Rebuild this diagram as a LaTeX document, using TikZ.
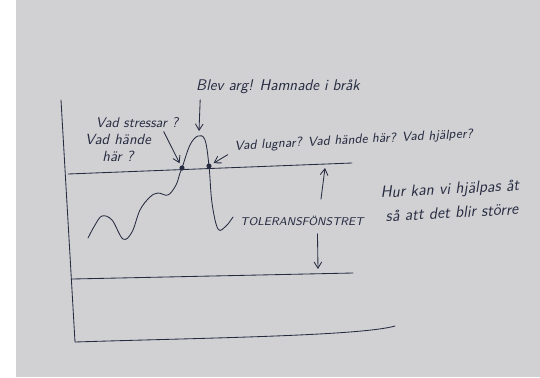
\documentclass[tikz,border=0pt]{standalone}
\usepackage{fontspec}
\usepackage{tikz}
\definecolor{ink}{rgb}{0.15, 0.17, 0.25}
\definecolor{paper}{rgb}{0.82, 0.82, 0.83}
\usetikzlibrary{arrows.meta}

\begin{document}
\begin{tikzpicture}[x=0.025cm, y=-0.025cm,
    pen/.style={ink, line width=0.6pt, line cap=round},
    penarrow/.style={pen, -{Straight Barb[length=4.5pt,width=5.5pt]}},
    hand/.style={ink, inner sep=1pt, font=\sffamily\itshape\fontsize{9.5}{15}\selectfont},
    dotnode/.style={draw=ink, fill=ink, shape=circle, inner sep=0pt, minimum size=3.2pt}]
  \useasboundingbox (0,0) rectangle (540,377);
  \fill[paper] (0,0) rectangle (540,377);
  \fill[white] (0,0) rectangle (16,377);
  \clip (0,0) rectangle (540,377);

  \draw[pen] (61,100) -- (75,342) .. controls (200,338) and (360,336) .. (395,326);
  \draw[pen] (68,174) -- (352,163);
  \draw[pen] (72,279) -- (353,273);

  \draw[pen] plot[smooth, tension=0.6] coordinates {(88,238) (95,225) (102,216) (112,220) (123,239)
      (132,232) (140,210) (150,197) (158,193) (168,195) (176,185) (180,173) (182,168)
      (190,145) (198,136) (205,140) (209,166) (212,203) (218,229) (226,226) (233,217)};

  \node[dotnode] (d1) at (182,168) {};
  \node[dotnode] (d2) at (209,166) {};
  \coordinate (peak) at (199,131);
  \coordinate (tolup) at (325,168);
  \coordinate (toldown) at (318,269);

  \node[hand, font=\sffamily\itshape\fontsize{11}{14}\selectfont] (blev) at (278,87) {Blev arg! Hamnade i bråk};
  \node[hand, font=\sffamily\itshape\fontsize{10}{12}\selectfont] (stress) at (137,123) {Vad stressar ?};
  \node[hand, align=center, font=\sffamily\itshape\fontsize{10.5}{11.5}\selectfont] (hande) at (118,148) {Vad hände\\här ?};
  \node[hand, rotate=3, anchor=west, font=\sffamily\itshape\fontsize{9.3}{12}\selectfont] (lugnar) at (233,147) {Vad lugnar? Vad hände här? Vad hjälper?};
  \node[hand, font=\sffamily\slshape\fontsize{8}{10}\selectfont] (tol) at (302,221) {TOLERANSFÖNSTRET};
  \node[hand, rotate=3, anchor=west, font=\sffamily\itshape\fontsize{11.5}{13}\selectfont] (hur) at (379,194) {Hur kan vi hjälpas åt};
  \node[hand, rotate=3, anchor=west, font=\sffamily\itshape\fontsize{11.5}{13}\selectfont] (blir) at (384,216) {så att det blir större};

  \draw[penarrow] ([xshift=4pt,yshift=-3pt]blev.south west) -- (peak);
  \draw[penarrow, shorten >=2pt] ([xshift=8pt,yshift=1pt]hande.north east) -- (d1);
  \draw[penarrow, shorten >=2pt] ([xshift=-4pt,yshift=0pt]lugnar.south west) -- (d2);
  \draw[penarrow] ([xshift=13.5pt,yshift=11pt]tol.north) -- (tolup);
  \draw[penarrow] ([xshift=11pt,yshift=-4.5pt]tol.south) -- (toldown);
\end{tikzpicture}
\end{document}
